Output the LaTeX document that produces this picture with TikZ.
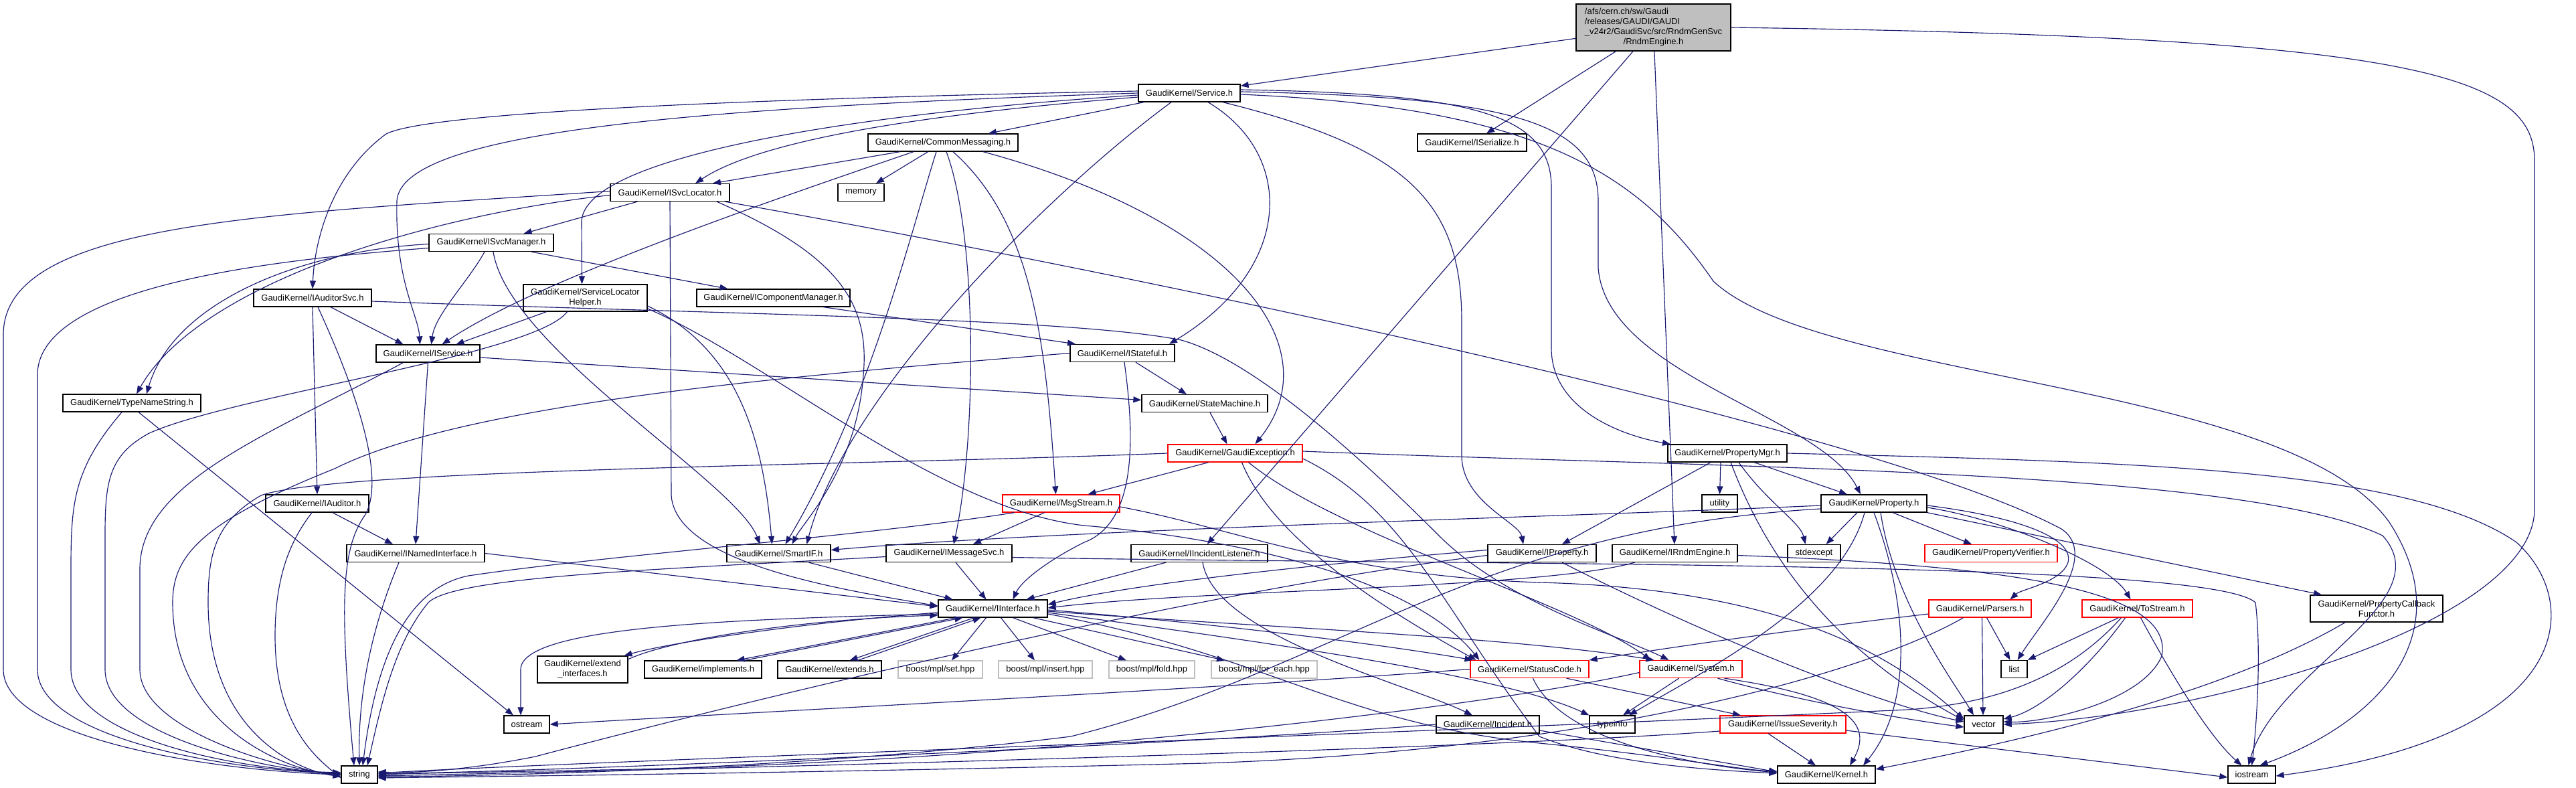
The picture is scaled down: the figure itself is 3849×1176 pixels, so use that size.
\documentclass[tikz,border=0pt]{standalone}
\usepackage{fontspec}
\setmainfont{Liberation Sans}
\usetikzlibrary{arrows.meta}
\definecolor{edgeblue}{HTML}{191970}
\definecolor{rootgrey}{HTML}{BFBFBF}
\definecolor{boxred}{HTML}{FF0000}
\definecolor{boostgrey}{HTML}{BFBFBF}
\begin{document}
\begin{tikzpicture}[x=1pt,y=1pt,
  box/.style={draw=black, fill=white, line width=1.3pt, inner sep=0pt, minimum height=26pt, align=center, font=\fontsize{13}{15}\selectfont},
  tall/.style={minimum height=40pt},
  redbox/.style={box, draw=boxred},
  greybox/.style={box, draw=boostgrey},
  dep/.style={draw=edgeblue, line width=1.15pt, -{Triangle[length=12pt,width=9pt]}}]
\useasboundingbox (0,0) rectangle (3849,-1176);
\fill[white] (0,0) rectangle (3849,-1176);
% ---------------- nodes ----------------
\node[box, fill=rootgrey, minimum width=231pt, minimum height=70pt] (root) at (2470.5,-41) {\begin{tabular}{@{}l@{}}/afs/cern.ch/sw/Gaudi\\/releases/GAUDI/GAUDI\\\_v24r2/GaudiSvc/src/RndmGenSvc\\\multicolumn{1}{@{}c@{}}{/RndmEngine.h}\end{tabular}};
\node[box, minimum width=152pt] (svc) at (1777,-139) {GaudiKernel/Service.h};
\node[box, minimum width=224pt] (cmsg) at (1409,-213) {GaudiKernel/CommonMessaging.h};
\node[box, minimum width=163pt] (iser) at (2199.5,-213) {GaudiKernel/ISerialize.h};
\node[box, minimum width=178pt] (isl) at (1001,-287.5) {GaudiKernel/ISvcLocator.h};
\node[box, minimum width=69pt] (memory) at (1286.5,-287.5) {memory};
\node[box, minimum width=186pt] (ism) at (734,-362.5) {GaudiKernel/ISvcManager.h};
\node[box, minimum width=176pt] (iaudsvc) at (467,-445) {GaudiKernel/IAuditorSvc.h};
\node[box, tall, minimum width=185pt] (slh) at (874.5,-445) {GaudiKernel/ServiceLocator\\Helper.h};
\node[box, minimum width=229pt] (icm) at (1155.5,-445) {GaudiKernel/IComponentManager.h};
\node[box, minimum width=155pt] (isvc) at (639.5,-528) {GaudiKernel/IService.h};
\node[box, minimum width=156pt] (istf) at (1677,-527.5) {GaudiKernel/IStateful.h};
\node[box, minimum width=206pt] (tns) at (197,-602) {GaudiKernel/TypeNameString.h};
\node[box, minimum width=188pt] (stm) at (1800,-602.5) {GaudiKernel/StateMachine.h};
\node[redbox, minimum width=201pt] (gex) at (1845.5,-677) {GaudiKernel/GaudiException.h};
\node[box, minimum width=178pt] (pmgr) at (2581,-677) {GaudiKernel/PropertyMgr.h};
\node[box, minimum width=154pt] (iaud) at (474,-752) {GaudiKernel/IAuditor.h};
\node[redbox, minimum width=175pt] (msg) at (1585.5,-752) {GaudiKernel/MsgStream.h};
\node[box, minimum width=53pt] (utility) at (2569.5,-752) {utility};
\node[box, minimum width=158pt] (prop) at (2800,-752) {GaudiKernel/Property.h};
\node[box, minimum width=206pt] (inamed) at (621,-826.5) {GaudiKernel/INamedInterface.h};
\node[box, minimum width=155pt] (smartif) at (1163.5,-826.5) {GaudiKernel/SmartIF.h};
\node[box, minimum width=188pt] (imsg) at (1418,-826.5) {GaudiKernel/IMessageSvc.h};
\node[box, minimum width=204pt] (iinc) at (1792,-826.5) {GaudiKernel/IIncidentListener.h};
\node[box, minimum width=162pt] (iprop) at (2304,-826.5) {GaudiKernel/IProperty.h};
\node[box, minimum width=187pt] (irndm) at (2502.5,-826.5) {GaudiKernel/IRndmEngine.h};
\node[box, minimum width=79pt] (stdexcept) at (2710.5,-826.5) {stdexcept};
\node[redbox, minimum width=198pt] (pver) at (2975,-826.5) {GaudiKernel/PropertyVerifier.h};
\node[box, minimum width=163pt] (iint) at (1483.5,-909) {GaudiKernel/IInterface.h};
\node[redbox, minimum width=153pt] (parsers) at (2958.5,-909) {GaudiKernel/Parsers.h};
\node[redbox, minimum width=165pt] (tostream) at (3193.5,-909) {GaudiKernel/ToStream.h};
\node[box, tall, minimum width=198pt] (pcf) at (3551,-909) {GaudiKernel/PropertyCallback\\Functor.h};
\node[box, tall, minimum width=135pt] (extif) at (870.5,-1000) {GaudiKernel/extend\\\_interfaces.h};
\node[box, minimum width=175pt] (impl) at (1050.5,-1000) {GaudiKernel/implements.h};
\node[box, minimum width=155pt] (extends) at (1239.5,-1000) {GaudiKernel/extends.h};
\node[greybox, minimum width=126pt] (mplset) at (1405,-1000) {boost/mpl/set.hpp};
\node[greybox, minimum width=140pt] (mplins) at (1562,-1000) {boost/mpl/insert.hpp};
\node[greybox, minimum width=128pt] (mplfold) at (1721,-1000) {boost/mpl/fold.hpp};
\node[greybox, minimum width=158pt] (mplfe) at (1889,-1000) {boost/mpl/for\_each.hpp};
\node[redbox, minimum width=177pt] (statuscode) at (2285.5,-999.5) {GaudiKernel/StatusCode.h};
\node[redbox, minimum width=153pt] (system) at (2526.5,-999.5) {GaudiKernel/System.h};
\node[box, minimum width=39pt] (list) at (3009.5,-999.5) {list};
\node[box, minimum width=68pt] (ostream) at (787,-1082) {ostream};
\node[box, minimum width=154pt] (incident) at (2223,-1082) {GaudiKernel/Incident.h};
\node[box, minimum width=68pt] (typeinfo) at (2409,-1082) {typeinfo};
\node[redbox, minimum width=188pt] (issue) at (2664,-1082) {GaudiKernel/IssueSeverity.h};
\node[box, minimum width=58pt] (vector) at (2964,-1082) {vector};
\node[box, minimum width=54pt] (string) at (537,-1157) {string};
\node[box, minimum width=146pt] (kernel) at (2729,-1157) {GaudiKernel/Kernel.h};
\node[box, minimum width=71pt] (iostream) at (3364.5,-1157) {iostream};
% ---------------- edges ----------------
% root
\draw[dep] (root) -- (svc);
\draw[dep] (root) -- (iser);
\draw[dep] (root) -- (iinc);
\draw[dep] (root) -- (irndm);
\draw[dep] (root.east) .. controls (3600,-55) and (3787,-110) .. (3787,-240) -- (3787,-760) .. controls (3787,-930) and (3300,-1070) .. (vector.east);
% Service.h
\draw[dep] (svc) -- (cmsg);
\draw[dep] ([yshift=-6pt]svc.west) .. controls (1450,-165) and (1150,-200) .. ([xshift=38pt]isl.north);
\draw[dep] ([yshift=3pt]svc.west) .. controls (1100,-148) and (640,-168) .. (577,-200) .. controls (495,-260) and (470,-360) .. (iaudsvc.north);
\draw[dep] (svc.west) .. controls (1050,-160) and (600,-195) .. (593,-300) .. controls (590,-420) and (625,-470) .. ([xshift=-12pt]isvc.north);
\draw[dep] ([yshift=-3pt]svc.west) .. controls (1300,-168) and (875,-230) .. (869,-330) -- ([xshift=-5pt]slh.north);
\draw[dep] ([xshift=-27pt]svc.south) .. controls (1550,-300) and (1260,-600) .. ([xshift=42pt]smartif.north);
\draw[dep] ([xshift=28pt]svc.south) .. controls (1935,-230) and (1935,-400) .. ([xshift=70pt]istf.north);
\draw[dep] ([xshift=50pt]svc.south) .. controls (2100,-220) and (2184,-300) .. (2184,-480) -- (2184,-680) .. controls (2184,-750) and (2270,-780) .. ([xshift=-28pt]iprop.north);
\draw[dep] ([yshift=5pt]svc.east) .. controls (2200,-140) and (2318,-170) .. (2318,-280) -- (2318,-520) .. controls (2318,-610) and (2420,-650) .. ([xshift=-85pt]pmgr.north);
\draw[dep] ([yshift=2pt]svc.east) .. controls (2250,-145) and (2388,-180) .. (2388,-300) -- (2388,-400) .. controls (2400,-560) and (2720,-620) .. ([xshift=-20pt]prop.north);
\draw[dep] ([yshift=-2pt]svc.east) .. controls (2300,-160) and (2450,-260) .. (2560,-420) .. controls (2720,-570) and (3420,-570) .. (3570,-780) .. controls (3680,-950) and (3550,-1080) .. ([xshift=12pt]iostream.north);
% CommonMessaging.h
\draw[dep] ([xshift=-64pt]cmsg.south) -- ([xshift=64pt]isl.north);
\draw[dep] (cmsg) -- (memory);
\draw[dep] ([xshift=-44pt]cmsg.south) .. controls (1150,-300) and (800,-420) .. ([xshift=21pt]isvc.north);
\draw[dep] ([xshift=-10pt]cmsg.south) .. controls (1360,-350) and (1300,-600) .. ([xshift=10pt]smartif.north);
\draw[dep] ([xshift=5pt]cmsg.south) .. controls (1460,-350) and (1460,-650) .. ([xshift=7pt]imsg.north);
\draw[dep] ([xshift=15pt]cmsg.south) .. controls (1540,-330) and (1562,-500) .. ([xshift=-8pt]msg.north);
\draw[dep] ([xshift=60pt]cmsg.south) .. controls (1850,-330) and (1990,-520) .. ([xshift=30pt]gex.north);
% ISvcLocator.h
\draw[dep] (isl) -- (ism);
\draw[dep] ([yshift=-4pt]isl.west) .. controls (650,-320) and (300,-420) .. ([xshift=7pt]tns.north);
\draw[dep] ([yshift=2pt]isl.west) .. controls (400,-320) and (5,-330) .. (5,-500) -- (5,-1000) .. controls (5,-1100) and (300,-1150) .. (string.west);
\draw[dep] ([xshift=70pt]isl.south) .. controls (1250,-380) and (1300,-450) .. (1290,-560) .. controls (1280,-700) and (1200,-780) .. ([xshift=20pt]smartif.north);
\draw[dep] ([xshift=82pt]isl.south) .. controls (1700,-410) and (2800,-640) .. (3080,-790) .. controls (3140,-830) and (3050,-930) .. ([xshift=5pt]list.north);
\draw[dep] (isl.south) -- (1003,-740) .. controls (1010,-840) and (1250,-880) .. ([yshift=4pt]iint.west);
% ISvcManager.h
\draw[dep] ([yshift=-2pt]ism.west) .. controls (450,-375) and (260,-450) .. ([xshift=22pt]tns.north);
\draw[dep] ([yshift=-8pt]ism.west) .. controls (450,-385) and (56,-420) .. (56,-560) -- (56,-1000) .. controls (56,-1100) and (330,-1150) .. ([yshift=2pt]string.west);
\draw[dep] ([xshift=-10pt]ism.south) .. controls (700,-420) and (650,-470) .. ([xshift=5pt]isvc.north);
\draw[dep] ([xshift=3pt]ism.south) .. controls (760,-520) and (1100,-720) .. ([xshift=-28pt]smartif.north);
\draw[dep] ([xshift=60pt]ism.south) -- ([xshift=-68pt]icm.north);
% IAuditorSvc.h
\draw[dep] ([xshift=27pt]iaudsvc.south) -- ([xshift=-37pt]isvc.north);
\draw[dep] (iaudsvc.south) -- (iaud.north);
\draw[dep] ([xshift=8pt]iaudsvc.south) .. controls (540,-600) and (575,-720) .. (545,-770) .. controls (510,-820) and (507,-900) .. ([xshift=-8pt]string.north);
\draw[dep] ([yshift=-5pt]iaudsvc.east) .. controls (1100,-470) and (1600,-475) .. (1765,-508) .. controls (1880,-540) and (2050,-700) .. (2150,-800) .. controls (2250,-900) and (2420,-950) .. ([xshift=-33pt]system.north);
% ServiceLocatorHelper.h
\draw[dep] ([xshift=-58pt]slh.south) -- ([xshift=42pt]isvc.north);
\draw[dep] ([xshift=-27pt]slh.south) .. controls (800,-530) and (350,-590) .. (223,-647) .. controls (162,-680) and (157,-720) .. (157,-800) -- (157,-1000) .. controls (157,-1100) and (400,-1150) .. ([yshift=1pt]string.west);
\draw[dep] ([yshift=-12pt]slh.east) .. controls (1100,-520) and (1140,-650) .. ([xshift=-10pt]smartif.north);
\draw[dep] ([yshift=-16pt]slh.east) .. controls (1150,-540) and (1400,-760) .. (1620,-785) .. controls (1800,-800) and (2100,-850) .. ([xshift=-75pt]statuscode.north);
% IComponentManager.h
\draw[dep] ([xshift=75pt]icm.south) -- ([xshift=-70pt]istf.north);
% IService.h
\draw[dep] (isvc.south) -- (inamed.north);
\draw[dep] ([yshift=-6pt]isvc.east) -- ([yshift=5pt]stm.west);
\draw[dep] ([xshift=-37pt]isvc.south) .. controls (400,-650) and (209,-720) .. (209,-850) -- (209,-1000) .. controls (209,-1090) and (420,-1150) .. (string.west);
% IStateful.h
\draw[dep] ([xshift=20pt]istf.south) -- ([xshift=-27pt]stm.north);
\draw[dep] ([xshift=3pt]istf.south) .. controls (1695,-650) and (1700,-780) .. (1620,-810) .. controls (1560,-840) and (1525,-870) .. ([xshift=30pt]iint.north);
\draw[dep] (istf.west) .. controls (1200,-560) and (700,-600) .. (500,-700) .. controls (300,-780) and (258,-830) .. (258,-900) .. controls (258,-1080) and (420,-1150) .. ([yshift=-1pt]string.west);
% TypeNameString.h
\draw[dep] ([xshift=-15pt]tns.south) .. controls (110,-700) and (106,-750) .. (106,-850) -- (106,-1000) .. controls (106,-1100) and (350,-1150) .. ([yshift=3pt]string.west);
\draw[dep] ([xshift=10pt]tns.south) -- ([xshift=-20pt]ostream.north);
% StateMachine.h
\draw[dep] ([xshift=8pt]stm.south) -- ([xshift=-12pt]gex.north);
% GaudiException.h
\draw[dep] (gex.west) .. controls (1300,-695) and (500,-700) .. (390,-740) .. controls (320,-780) and (311,-830) .. (311,-900) .. controls (311,-1090) and (440,-1150) .. ([yshift=-3pt]string.west);
\draw[dep] ([xshift=-40pt]gex.south) -- ([xshift=40pt]msg.north);
\draw[dep] ([xshift=10pt]gex.south) .. controls (1900,-800) and (2050,-900) .. ([xshift=-80pt]statuscode.north);
\draw[dep] ([xshift=20pt]gex.south) .. controls (2000,-800) and (2350,-900) .. ([xshift=-60pt]system.north);
\draw[dep] ([yshift=-8pt]gex.east) .. controls (2100,-760) and (2150,-900) .. (2300,-1100) .. controls (2400,-1140) and (2550,-1150) .. ([yshift=2pt]kernel.west);
\draw[dep] ([yshift=3pt]gex.east) .. controls (2600,-700) and (3350,-700) .. (3560,-800) .. controls (3650,-900) and (3400,-1000) .. ([xshift=-5pt]iostream.north);
% MsgStream.h
\draw[dep] ([xshift=-25pt]msg.south) -- ([xshift=36pt]imsg.north);
\draw[dep] ([xshift=-70pt]msg.south) .. controls (1300,-800) and (900,-830) .. (700,-860) .. controls (600,-880) and (560,-1000) .. ([xshift=5pt]string.north);
\draw[dep] ([yshift=-5pt]msg.east) .. controls (1850,-790) and (2000,-860) .. (2300,-870) .. controls (2700,-880) and (2850,-1000) .. ([yshift=8pt]vector.west);
% IAuditor.h
\draw[dep] ([xshift=23pt]iaud.south) -- ([xshift=-34pt]inamed.north);
\draw[dep] ([xshift=-8pt]iaud.south) .. controls (440,-800) and (411,-850) .. (411,-950) .. controls (411,-1080) and (470,-1130) .. ([yshift=-5pt]string.west);
% INamedInterface.h
\draw[dep] (inamed.east) -- ([yshift=3pt]iint.west);
\draw[dep] ([xshift=-25pt]inamed.south) .. controls (550,-950) and (535,-1050) .. (string.north);
% SmartIF.h, IMessageSvc.h, IIncidentListener.h
\draw[dep] ([xshift=45pt]smartif.south) -- ([xshift=-60pt]iint.north);
\draw[dep] ([xshift=10pt]imsg.south) -- ([xshift=-10pt]iint.north);
\draw[dep] ([yshift=-5pt]imsg.west) .. controls (1000,-850) and (680,-860) .. (640,-900) .. controls (590,-960) and (570,-1050) .. ([xshift=12pt]string.north);
\draw[dep] ([yshift=-6pt]imsg.east) .. controls (2200,-845) and (3300,-835) .. (3370,-900) .. controls (3380,-980) and (3370,-1100) .. (iostream.north);
\draw[dep] ([xshift=-50pt]iinc.south) -- ([xshift=50pt]iint.north);
\draw[dep] ([xshift=5pt]iinc.south) .. controls (1815,-950) and (2100,-1020) .. ([xshift=-23pt]incident.north);
% IProperty.h
\draw[dep] ([yshift=5pt]iprop.west) .. controls (2000,-840) and (1700,-870) .. ([yshift=6pt]iint.east);
\draw[dep] ([yshift=-3pt]iprop.west) .. controls (1800,-880) and (1100,-1050) .. (800,-1130) .. controls (700,-1150) and (620,-1155) .. ([yshift=4pt]string.east);
\draw[dep] ([xshift=30pt]iprop.south) .. controls (2550,-950) and (2800,-1050) .. ([yshift=4pt]vector.west);
% IRndmEngine.h
\draw[dep] ([xshift=-60pt]irndm.south) .. controls (2300,-880) and (1800,-880) .. ([yshift=1pt]iint.east);
\draw[dep] ([yshift=-3pt]irndm.east) .. controls (3000,-845) and (3250,-880) .. (3230,-980) .. controls (3200,-1050) and (3050,-1080) .. ([yshift=4pt]vector.east);
% PropertyMgr.h
\draw[dep] ([xshift=-10pt]pmgr.south) -- (utility.north);
\draw[dep] ([xshift=-25pt]pmgr.south) -- ([xshift=30pt]iprop.north);
\draw[dep] ([xshift=17pt]pmgr.south) .. controls (2640,-750) and (2690,-780) .. ([xshift=-13pt]stdexcept.north);
\draw[dep] ([xshift=5pt]pmgr.south) .. controls (2620,-780) and (2700,-950) .. ([yshift=6pt]vector.west);
\draw[dep] ([xshift=40pt]pmgr.south) -- ([xshift=-40pt]prop.north);
\draw[dep] (pmgr.east) .. controls (3200,-690) and (3600,-700) .. (3760,-810) .. controls (3860,-900) and (3850,-1100) .. ([yshift=-2pt]iostream.east);
% Property.h
\draw[dep] ([yshift=-3pt]prop.west) .. controls (2400,-770) and (1600,-790) .. ([yshift=5pt]smartif.east);
\draw[dep] ([yshift=-8pt]prop.west) .. controls (2200,-790) and (2000,-1000) .. (1600,-1100) .. controls (1200,-1150) and (700,-1160) .. ([yshift=-3pt]string.east);
\draw[dep] ([xshift=-25pt]prop.south) -- ([xshift=18pt]stdexcept.north);
\draw[dep] ([xshift=-14pt]prop.south) .. controls (2750,-900) and (2550,-1000) .. ([xshift=25pt]typeinfo.north);
\draw[dep] (prop.south) .. controls (2850,-900) and (2860,-1050) .. ([xshift=55pt]kernel.north);
\draw[dep] ([xshift=10pt]prop.south) .. controls (2830,-900) and (2920,-1020) .. ([xshift=-15pt]vector.north);
\draw[dep] ([xshift=28pt]prop.south) -- ([xshift=-29pt]pver.north);
\draw[dep] ([yshift=-3pt]prop.east) .. controls (3000,-770) and (3100,-800) .. (3090,-840) .. controls (3080,-870) and (3020,-880) .. ([xshift=45pt]parsers.north);
\draw[dep] ([yshift=-6pt]prop.east) .. controls (2990,-775) and (3150,-840) .. ([xshift=-10pt]tostream.north);
\draw[dep] (prop.south east) -- ([xshift=-82pt]pcf.north);
% Parsers.h
\draw[dep] ([yshift=-8pt]parsers.west) .. controls (2600,-950) and (2450,-975) .. (statuscode.north east);
\draw[dep] ([xshift=10pt]parsers.south) -- ([xshift=-6pt]list.north);
\draw[dep] ([xshift=3pt]parsers.south) -- ([xshift=-1pt]vector.north);
\draw[dep] ([xshift=-25pt]parsers.south) .. controls (2800,-1000) and (2400,-1120) .. (1800,-1140) .. controls (1200,-1155) and (700,-1160) .. ([yshift=-5pt]string.east);
% ToStream.h
\draw[dep] ([xshift=-28pt]tostream.south) -- (list.north east);
\draw[dep] ([xshift=-24pt]tostream.south) .. controls (3100,-1000) and (3000,-1050) .. (2850,-1060) .. controls (2000,-1100) and (800,-1140) .. ([yshift=2pt]string.east);
\draw[dep] ([xshift=-18pt]tostream.south) .. controls (3120,-1000) and (3050,-1060) .. ([yshift=8pt]vector.east);
\draw[dep] ([xshift=5pt]tostream.south) .. controls (3240,-1000) and (3300,-1100) .. ([xshift=-15pt]iostream.north);
% PropertyCallbackFunctor.h
\draw[dep] ([xshift=-47pt]pcf.south) .. controls (3300,-1050) and (2950,-1120) .. ([yshift=8pt]kernel.east);
% IInterface.h
\draw[dep] ([xshift=-55pt]iint.south) -- ([xshift=50pt]impl.north);
\draw[dep] ([xshift=62pt]impl.north) -- ([xshift=-45pt]iint.south);
\draw[dep] ([xshift=-28pt]iint.south) -- ([xshift=30pt]extends.north);
\draw[dep] ([xshift=42pt]extends.north) -- ([xshift=-18pt]iint.south);
\draw[dep] ([yshift=-6pt]iint.west) .. controls (1200,-930) and (1000,-960) .. ([xshift=62pt]extif.north);
\draw[dep] ([xshift=67pt,yshift=-6pt]extif.north) .. controls (1000,-955) and (1200,-925) .. ([yshift=-10pt]iint.west);
\draw[dep] ([xshift=-10pt]iint.south) -- ([xshift=17pt]mplset.north);
\draw[dep] ([xshift=12pt]iint.south) -- ([xshift=-16pt]mplins.north);
\draw[dep] ([xshift=30pt]iint.south) -- ([xshift=-38pt]mplfold.north);
\draw[dep] ([xshift=60pt]iint.south) -- ([xshift=-59pt]mplfe.north);
\draw[dep] ([yshift=-8pt]iint.west) .. controls (1100,-925) and (778,-935) .. (778,-1000) -- ([xshift=-9pt]ostream.north);
\draw[dep] ([yshift=-2pt]iint.east) .. controls (1800,-930) and (2050,-960) .. ([xshift=-85pt]statuscode.north);
\draw[dep] ([yshift=-4pt]iint.east) .. controls (1850,-935) and (2250,-950) .. ([xshift=-55pt]system.north);
\draw[dep] ([yshift=-6pt]iint.east) .. controls (1900,-960) and (2250,-1010) .. (typeinfo.north west);
\draw[dep] ([yshift=-8pt]iint.east) .. controls (1900,-980) and (2000,-1080) .. (2300,-1110) .. controls (2500,-1130) and (2600,-1150) .. ([yshift=5pt]kernel.west);
% StatusCode.h
\draw[dep] (statuscode.west) .. controls (1800,-1030) and (1100,-1065) .. (ostream.east);
\draw[dep] ([xshift=5pt]statuscode.south) .. controls (2330,-1100) and (2500,-1140) .. ([yshift=3pt]kernel.west);
\draw[dep] ([xshift=55pt]statuscode.south) -- ([xshift=-63pt]issue.north);
% System.h
\draw[dep] ([xshift=-18pt]system.south) -- ([xshift=16pt]typeinfo.north);
\draw[dep] ([yshift=-5pt]system.west) .. controls (2200,-1060) and (1500,-1140) .. (900,-1150) .. controls (750,-1153) and (600,-1155) .. ([yshift=-1pt]string.east);
\draw[dep] ([xshift=40pt]system.south) .. controls (2700,-1050) and (2850,-1075) .. ([yshift=-4pt]vector.west);
\draw[dep] ([xshift=50pt]system.south) .. controls (2760,-1040) and (2800,-1080) .. ([xshift=35pt]kernel.north);
% Incident.h
\draw[dep] (incident.west) .. controls (1800,-1110) and (900,-1150) .. ([yshift=1pt]string.east);
\draw[dep] ([yshift=-9pt]incident.east) -- ([yshift=4pt]kernel.west);
% IssueSeverity.h
\draw[dep] ([xshift=-22pt]issue.south) -- ([xshift=-16pt]kernel.north);
\draw[dep] ([yshift=-10pt]issue.west) .. controls (2200,-1120) and (1000,-1150) .. ([yshift=-2pt]string.east);
\draw[dep] ([yshift=-9pt]issue.east) -- ([yshift=-4pt]iostream.west);
\end{tikzpicture}
\end{document}
